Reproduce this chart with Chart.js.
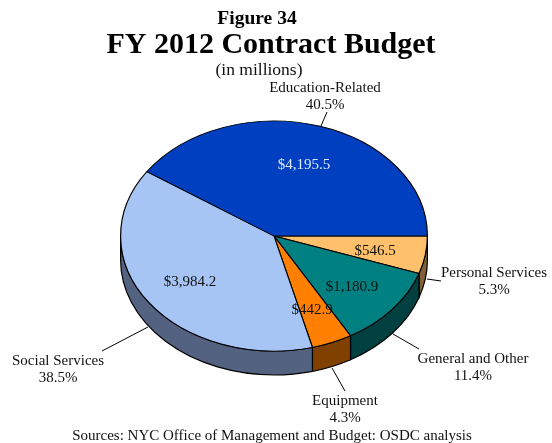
<!DOCTYPE html>
<html><head><meta charset="utf-8">
<style>html,body{margin:0;padding:0;background:#fff}#w{position:relative;width:552px;height:443px}</style>
<script src="https://cdn.jsdelivr.net/npm/chart.js@4"></script>
</head><body><div id="w"><canvas id="c" width="552" height="443"></canvas></div>
<script>
const categories = ["Personal Services","General and Other","Equipment","Social Services","Education-Related"];
const values = [546.5,1180.9,442.9,3984.2,4195.5];
const valueLabels = ["$546.5","$1,180.9","$442.9","$3,984.2","$4,195.5"];
const shares = ["5.3%","11.4%","4.3%","38.5%","40.5%"];
const topColors = ["#FFC06C","#008080","#FF8000","#A6C4F4","#0040C0"];
const sideColors = ["#806036","#004040","#804000","#536280","#002060"];
const valueColors = ["#111","#111","#111","#111","#DCE8FF"];

const SERIF = '"Liberation Serif","Times New Roman",serif';
const CY = 236, RY = 115, DEPTH = 24;
// value label anchors, and category label anchors with leader lines
const valuePos = [[375,251],[352,287],[312,310],[190,282],[304,165]];
const catPos = [[494,273],[473,359],[345,401],[58,361],[325,88]];
const leaders = [[427,279,441,281],[393,334,419,349],[332,368,345,391],[148,327,102,351],[321,126,327,112]];

const pie3d = {
  id:'pie3d',
  beforeDatasetsDraw(chart){
    const ctx = chart.ctx, arcs = chart.getDatasetMeta(0).data;
    const cx = arcs[0].x, r = arcs[0].outerRadius;
    const ry = RY;
    arcs.forEach((a,i)=>{
      const s = Math.max(a.startAngle,0), e = Math.min(a.endAngle,Math.PI);
      if(e<=s) return;
      ctx.beginPath();
      ctx.ellipse(cx,CY,r,ry,0,s,e,false);
      ctx.ellipse(cx,CY+DEPTH,r,ry,0,e,s,true);
      ctx.closePath();
      ctx.fillStyle = sideColors[i];
      ctx.fill();
      ctx.strokeStyle = '#000'; ctx.lineWidth = 1.2; ctx.stroke();
    });
    ctx.save();
    ctx.translate(cx,CY); ctx.scale(1,ry/r); ctx.translate(-cx,-arcs[0].y);
  },
  afterDatasetsDraw(chart){
    const ctx = chart.ctx;
    ctx.restore();
    ctx.save();
    ctx.textAlign='center'; ctx.textBaseline='middle';
    ctx.strokeStyle='#000'; ctx.lineWidth=1;
    leaders.forEach(l=>{ctx.beginPath();ctx.moveTo(l[0],l[1]);ctx.lineTo(l[2],l[3]);ctx.stroke();});
    ctx.font='15px '+SERIF;
    valueLabels.forEach((t,i)=>{ctx.fillStyle=valueColors[i];ctx.fillText(t,valuePos[i][0],valuePos[i][1]);});
    ctx.fillStyle='#111';
    categories.forEach((t,i)=>{
      ctx.fillText(t,catPos[i][0],catPos[i][1]);
      ctx.fillText(shares[i],catPos[i][0],catPos[i][1]+17.5);
    });
    ctx.fillText("Sources: NYC Office of Management and Budget: OSDC analysis",272,436);
    ctx.fillStyle='#000';
    ctx.font='bold 19.5px '+SERIF; ctx.fillText("Figure 34",257,19);
    ctx.font='bold 30px '+SERIF; ctx.fillText("FY 2012 Contract Budget",271,45);
    ctx.fillStyle='#111';
    ctx.font='17.5px '+SERIF; ctx.fillText("(in millions)",259,70);
    ctx.restore();
  }
};

new Chart(document.getElementById('c'),{
  type:'pie',
  data:{labels:categories,datasets:[{data:values,backgroundColor:topColors,borderColor:'#000',borderWidth:1.2}]},
  options:{
    responsive:false,animation:false,rotation:90,
    layout:{padding:{left:120,right:124,top:0,bottom:135}},
    plugins:{legend:{display:false},tooltip:{enabled:false},title:{display:false}}
  },
  plugins:[pie3d]
});
</script></body></html>
